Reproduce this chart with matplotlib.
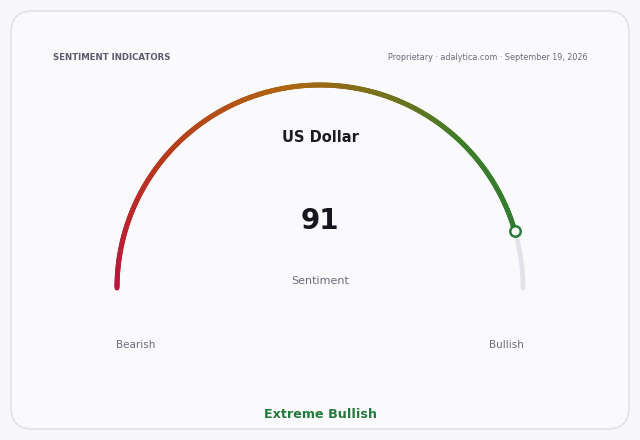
import os
import numpy as np
import matplotlib
matplotlib.use("Agg")
import matplotlib.pyplot as plt
from matplotlib.collections import LineCollection
from matplotlib.colors import LinearSegmentedColormap
from matplotlib.patches import FancyBboxPatch
from matplotlib.font_manager import FontProperties

font_dir = os.path.join(matplotlib.get_data_path(), "fonts", "ttf")
REG = os.path.join(font_dir, "DejaVuSans.ttf")
BOLD = os.path.join(font_dir, "DejaVuSans-Bold.ttf")


def fp(size, bold=False):
    return FontProperties(fname=BOLD if bold else REG, size=size)


# chart data
asset = "US Dollar"
value = 91
value_min, value_max = 0, 100
metric_label = "Sentiment"
verdict = "Extreme Bullish"
low_label, high_label = "Bearish", "Bullish"
header_left = "SENTIMENT INDICATORS"
header_right = "Proprietary · adalytica.com · September 19, 2026"

# gradient stops along the gauge (fraction of full sweep)
grad_pos = [0.0, 0.2, 0.45, 0.75, 1.0]
grad_colors = ["#bb143e", "#b8361f", "#b0650f", "#3e7d28", "#2a7a34"]

W, H = 640, 440
fig = plt.figure(figsize=(W / 100, H / 100), dpi=100)
fig.patch.set_facecolor("#f7f7fb")
ax = fig.add_axes([0, 0, 1, 1])
ax.set_xlim(0, W)
ax.set_ylim(H, 0)
ax.axis("off")

# card
card = FancyBboxPatch((11, 11), 618, 418, boxstyle="round,pad=0,rounding_size=22",
                      facecolor="#fafafd", edgecolor="#dedee8", linewidth=1.0)
ax.add_patch(card)

ax.text(53, 58, header_left, fontproperties=fp(6.2, True), color="#5b5b6e",
        ha="left", va="center")
ax.text(587, 58, header_right, fontproperties=fp(5.75), color="#6a6a78",
        ha="right", va="center")

# gauge geometry
cx, cy, r = 320, 288, 203
frac = (value - value_min) / (value_max - value_min)

# background track for the rest of the sweep
t_bg = np.linspace(np.pi * (1 - frac), 0, 60)
ax.plot(cx + r * np.cos(t_bg), cy - r * np.sin(t_bg), color="#e2e2e8",
        linewidth=3.4, solid_capstyle="round", zorder=2)

# coloured value arc
cmap = LinearSegmentedColormap.from_list("sent", list(zip(grad_pos, grad_colors)))
n = 400
f = np.linspace(0, frac, n)
t = np.pi * (1 - f)
xs, ys = cx + r * np.cos(t), cy - r * np.sin(t)
pts = np.column_stack([xs, ys]).reshape(-1, 1, 2)
segs = np.concatenate([pts[:-1], pts[1:]], axis=1)
lc = LineCollection(segs, colors=cmap((f[:-1] + f[1:]) / 2), linewidth=3.6,
                    capstyle="round", zorder=3)
ax.add_collection(lc)

# marker at current value
ax.plot(xs[-1], ys[-1], marker="o", markersize=7.5, markerfacecolor="white",
        markeredgecolor="#2a7a34", markeredgewidth=1.8, zorder=4)

ax.text(cx, 137, asset, fontproperties=fp(10.5, True), color="#1b1b24",
        ha="center", va="center")
ax.text(cx, 221, str(value), fontproperties=fp(20, True), color="#16161e",
        ha="center", va="center")
ax.text(cx, 281, metric_label, fontproperties=fp(8), color="#6b6b78",
        ha="center", va="center")
ax.text(136, 345, low_label, fontproperties=fp(7.5), color="#6b6b78",
        ha="center", va="center")
ax.text(506, 345, high_label, fontproperties=fp(7.5), color="#6b6b78",
        ha="center", va="center")
ax.text(cx, 414, verdict, fontproperties=fp(9.2, True), color="#237a3c",
        ha="center", va="center")

fig.savefig("out.png", dpi=100, facecolor=fig.get_facecolor())
